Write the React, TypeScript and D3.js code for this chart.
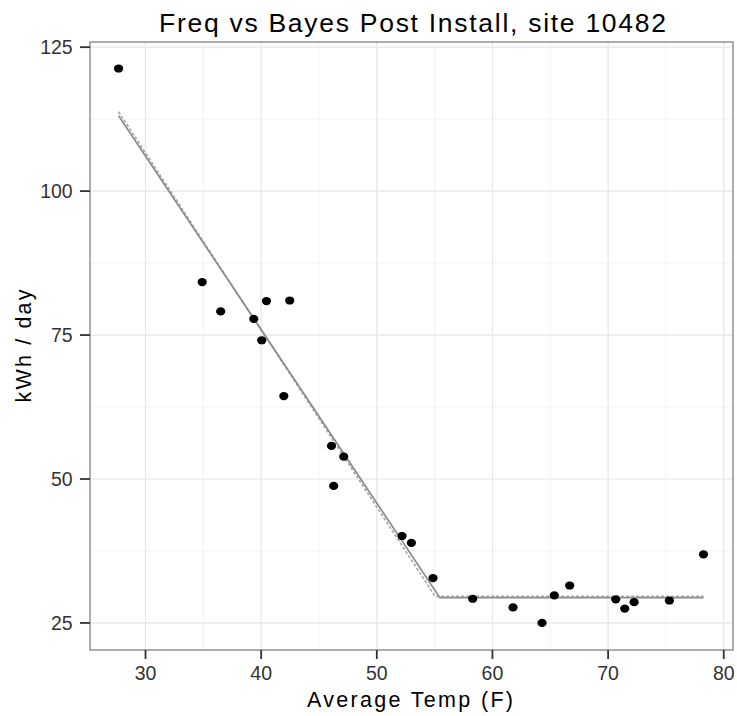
import React from "react";
import * as d3 from "d3";

// Observed daily usage vs. average temperature
const temps = [27.67, 34.9, 36.5, 39.36, 40.05, 40.46, 41.96, 42.47, 46.08, 46.27, 47.14, 52.18, 52.99, 54.86, 58.29, 61.78, 64.29, 65.35, 66.68, 70.66, 71.44, 72.25, 75.3, 78.25];
const kwh = [121.3, 84.2, 79.1, 77.8, 74.1, 80.9, 64.4, 81.0, 55.75, 48.8, 53.9, 40.1, 38.9, 32.8, 29.2, 27.7, 25.0, 29.8, 31.5, 29.1, 27.5, 28.6, 28.9, 36.9];

// Change-point fits: frequentist (solid) and Bayesian (dashed)
const freqFitX = [27.67, 55.45, 78.25];
const freqFitY = [113.1, 29.4, 29.4];
const bayesFitX = [27.67, 55.05, 78.25];
const bayesFitY = [113.8, 29.6, 29.6];

const xTicks = [30, 40, 50, 60, 70, 80];
const yTicks = [25, 50, 75, 100, 125];
const xMinor = [35, 45, 55, 65, 75];
const yMinor = [37.5, 62.5, 87.5, 112.5];

const W = 737;
const H = 716;
const M = { left: 90, right: 4, top: 42, bottom: 66 };
const FONT = "'Liberation Sans', Arial, Helvetica, sans-serif";

export default function App() {
  const x = d3.scaleLinear().domain([25.2, 80.8]).range([M.left, W - M.right]);
  const y = d3.scaleLinear().domain([20.3, 125.9]).range([H - M.bottom, M.top]);
  const line = d3
    .line<[number, number]>()
    .x((d) => x(d[0]))
    .y((d) => y(d[1]));
  const freqPts = freqFitX.map((v, i) => [v, freqFitY[i]] as [number, number]);
  const bayesPts = bayesFitX.map((v, i) => [v, bayesFitY[i]] as [number, number]);
  const [x0, x1] = x.range();
  const [y0, y1] = y.range();
  const cy = (y0 + y1) / 2;

  return (
    <svg
      width={W}
      height={H}
      style={{ position: "absolute", left: 0, top: 0, background: "#fff" }}
      fontFamily={FONT}
    >
      <rect x={0} y={0} width={W} height={H} fill="#fff" />
      {/* grid */}
      <g>
        {xMinor.map((t) => (
          <line key={"xm" + t} x1={x(t)} x2={x(t)} y1={y1} y2={y0} stroke="#f3f3f3" strokeWidth={1} />
        ))}
        {yMinor.map((t) => (
          <line key={"ym" + t} x1={x0} x2={x1} y1={y(t)} y2={y(t)} stroke="#f3f3f3" strokeWidth={1} />
        ))}
        {xTicks.map((t) => (
          <line key={"xg" + t} x1={x(t)} x2={x(t)} y1={y1} y2={y0} stroke="#e6e6e6" strokeWidth={1.2} />
        ))}
        {yTicks.map((t) => (
          <line key={"yg" + t} x1={x0} x2={x1} y1={y(t)} y2={y(t)} stroke="#e6e6e6" strokeWidth={1.2} />
        ))}
      </g>
      {/* fitted lines */}
      <path d={line(bayesPts) ?? ""} fill="none" stroke="#a8a8a8" strokeWidth={1.7} strokeDasharray="3,2" />
      <path d={line(freqPts) ?? ""} fill="none" stroke="#8c8c8c" strokeWidth={1.7} />
      {/* points */}
      {temps.map((t, i) => (
        <ellipse key={i} cx={x(t)} cy={y(kwh[i])} rx={4.6} ry={4.1} fill="#000" />
      ))}
      {/* panel border */}
      <rect x={x0} y={y1} width={x1 - x0} height={y0 - y1} fill="none" stroke="#8a8a8a" strokeWidth={1.4} />
      {/* axes */}
      {xTicks.map((t) => (
        <g key={"xt" + t}>
          <line x1={x(t)} x2={x(t)} y1={y0} y2={y0 + 9} stroke="#333" strokeWidth={1.8} />
          <text x={x(t)} y={679.5} textAnchor="middle" fontSize={19.5} fill="#333">
            {t}
          </text>
        </g>
      ))}
      {yTicks.map((t) => (
        <g key={"yt" + t}>
          <line x1={x0 - 10} x2={x0} y1={y(t)} y2={y(t)} stroke="#333" strokeWidth={1.8} />
          <text x={72.7} y={y(t) + 6.8} textAnchor="end" fontSize={19.5} fill="#333">
            {t}
          </text>
        </g>
      ))}
      <text
        x={410}
        y={707}
        textAnchor="middle"
        fontSize={21.5}
        fill="#000"
        textLength={206}
        lengthAdjust="spacing"
      >
        Average Temp (F)
      </text>
      <text
        transform={`translate(30.7,${cy}) rotate(-90)`}
        textAnchor="middle"
        fontSize={21.5}
        fill="#000"
        textLength={113}
        lengthAdjust="spacing"
      >
        kWh / day
      </text>
      <text
        x={412.5}
        y={31.5}
        textAnchor="middle"
        fontSize={26.5}
        fill="#000"
        textLength={507}
        lengthAdjust="spacing"
      >
        Freq vs Bayes Post Install, site 10482
      </text>
    </svg>
  );
}
